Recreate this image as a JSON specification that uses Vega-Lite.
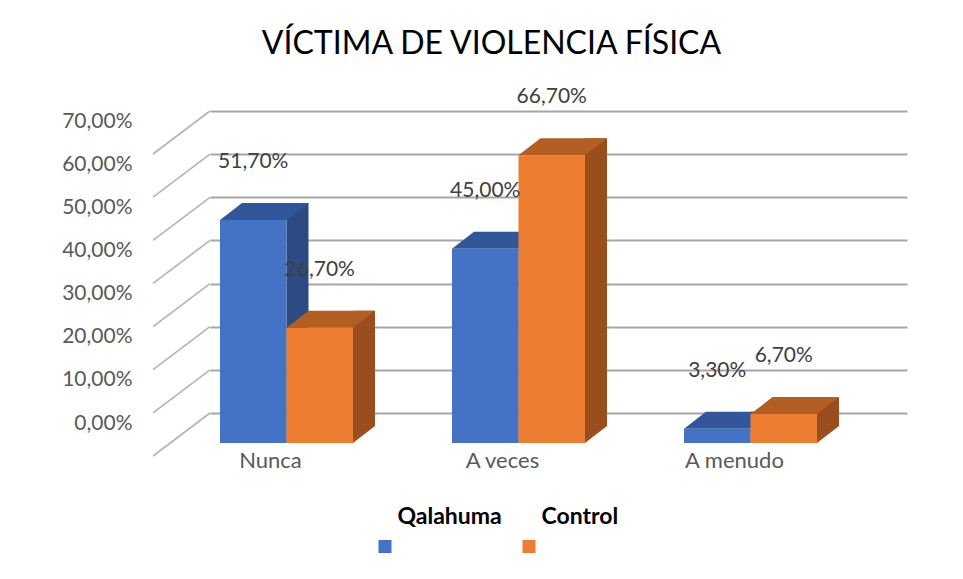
{
  "$schema": "https://vega.github.io/schema/vega-lite/v6.json",
  "autosize": "none",
  "width": 697,
  "height": 302,
  "padding": {"left": 210, "top": 111, "right": 56, "bottom": 166},
  "background": "white",
  "title": {
    "text": "VÍCTIMA DE VIOLENCIA FÍSICA",
    "font": "Lato",
    "fontSize": 32,
    "fontWeight": "normal",
    "color": "#000000",
    "anchor": "middle",
    "frame": "group",
    "baseline": "alphabetic",
    "offset": 0,
    "dx": -67
  },
  "datasets": {
    "barras": [
      {"cat": "Nunca", "serie": "Qalahuma", "v": 0.517},
      {"cat": "Nunca", "serie": "Control", "v": 0.267},
      {"cat": "A veces", "serie": "Qalahuma", "v": 0.45},
      {"cat": "A veces", "serie": "Control", "v": 0.667},
      {"cat": "A menudo", "serie": "Qalahuma", "v": 0.033},
      {"cat": "A menudo", "serie": "Control", "v": 0.067}
    ],
    "rejilla": [
      {"g": 0}, {"g": 0.1}, {"g": 0.2}, {"g": 0.3}, {"g": 0.4}, {"g": 0.5}, {"g": 0.6}, {"g": 0.7}
    ]
  },
  "data": {"name": "barras"},
  "encoding": {
    "x": {
      "field": "cat",
      "type": "nominal",
      "sort": ["Nunca", "A veces", "A menudo"],
      "scale": {"paddingInner": 0.4267, "paddingOuter": 0.2155, "align": 0.1},
      "axis": {
        "title": null,
        "labelAngle": 0,
        "labelFont": "Lato",
        "labelFontSize": 22,
        "labelColor": "#595959",
        "labelPadding": 37,
        "labelOffset": -16,
        "domain": false,
        "ticks": false,
        "grid": false
      }
    },
    "y": {
      "field": "v",
      "type": "quantitative",
      "scale": {"domain": [0, 0.7], "nice": false, "zero": true},
      "axis": {
        "title": null,
        "format": ".2%",
        "values": [0, 0.1, 0.2, 0.3, 0.4, 0.5, 0.6, 0.7],
        "labelFont": "Lato",
        "labelFontSize": 21,
        "labelColor": "#595959",
        "labelPadding": 78,
        "labelOffset": 10,
        "domain": false,
        "ticks": false,
        "grid": true,
        "gridColor": "#a6a6a6",
        "gridWidth": 2
      }
    }
  },
  "layer": [
    {
      "data": {"name": "rejilla"},
      "mark": {"type": "point", "shape": "M -76.5 0 L -133.5 43", "size": 4, "filled": false, "stroke": "#b4b4b4", "strokeWidth": 1.6, "opacity": 1},
      "encoding": {
        "x": {"datum": "Nunca", "type": "nominal"},
        "y": {"field": "g", "type": "quantitative"}
      }
    },
    {
      "transform": [{"filter": "datum.serie === 'Qalahuma'"}],
      "mark": {"type": "rule", "strokeWidth": 22, "strokeCap": "butt", "color": "#2B4B82", "xOffset": 11, "yOffset": 13, "y2Offset": 13, "opacity": 1},
      "encoding": {
        "y2": {"datum": 0}
      }
    },
    {
      "transform": [{"filter": "datum.serie === 'Control'"}],
      "mark": {"type": "rule", "strokeWidth": 22, "strokeCap": "butt", "color": "#9A4E1E", "xOffset": 77.5, "yOffset": 13, "y2Offset": 13, "opacity": 1},
      "encoding": {
        "y2": {"datum": 0}
      }
    },
    {
      "mark": {"type": "point", "shape": "M 33.25 0 L 33.25 -17 L 55.25 -17 Z", "size": 4, "filled": true, "strokeWidth": 0, "opacity": 1, "yOffset": 30},
      "encoding": {
        "xOffset": {"field": "serie", "type": "nominal", "sort": ["Qalahuma", "Control"], "scale": {"paddingInner": 0, "paddingOuter": 0}},
        "y": {"datum": 0, "type": "quantitative"},
        "color": {"field": "serie", "type": "nominal", "scale": {"domain": ["Qalahuma", "Control"], "range": ["#2B4B82", "#9A4E1E"]}, "legend": null}
      }
    },
    {
      "mark": {"type": "point", "shape": "M -33.25 0 L 33.25 0 L 55.25 -17 L -11.25 -17 Z", "size": 4, "filled": true, "strokeWidth": 0, "opacity": 1, "yOffset": 30},
      "encoding": {
        "xOffset": {"field": "serie", "type": "nominal", "sort": ["Qalahuma", "Control"]},
        "color": {"field": "serie", "type": "nominal", "scale": {"domain": ["Qalahuma", "Control"], "range": ["#31569A", "#B35E23"]}, "legend": null}
      }
    },
    {
      "mark": {"type": "bar", "yOffset": 30, "y2Offset": 30, "opacity": 1},
      "encoding": {
        "xOffset": {"field": "serie", "type": "nominal", "sort": ["Qalahuma", "Control"]},
        "color": {
          "field": "serie",
          "type": "nominal",
          "scale": {"domain": ["Qalahuma", "Control"], "range": ["#4472C4", "#ED7D31"]},
          "legend": {
            "title": null,
            "orient": "none",
            "direction": "horizontal",
            "legendX": 163.5,
            "legendY": 424,
            "symbolType": "square",
            "symbolSize": 169,
            "symbolStrokeWidth": 0,
            "labelFont": "Lato",
            "labelFontWeight": "bold",
            "labelFontSize": 23,
            "labelColor": "#000000",
            "labelBaseline": "line-bottom",
            "labelOffset": 1,
            "columnPadding": 15,
            "padding": 0
          }
        }
      }
    },
    {
      "mark": {"type": "text", "font": "Lato", "fontSize": 21, "color": "#404040", "baseline": "middle", "yOffset": -28},
      "encoding": {
        "xOffset": {"field": "serie", "type": "nominal", "sort": ["Qalahuma", "Control"]},
        "text": {"field": "v", "type": "quantitative", "format": ".2%"}
      }
    }
  ],
  "resolve": {"scale": {"color": "independent"}},
  "config": {
    "font": "Lato",
    "locale": {"number": {"decimal": ",", "thousands": ".", "grouping": [3], "currency": ["", " €"]}},
    "view": {"stroke": null},
    "style": {"guide-label": {"lineHeight": 60}}
  }
}
